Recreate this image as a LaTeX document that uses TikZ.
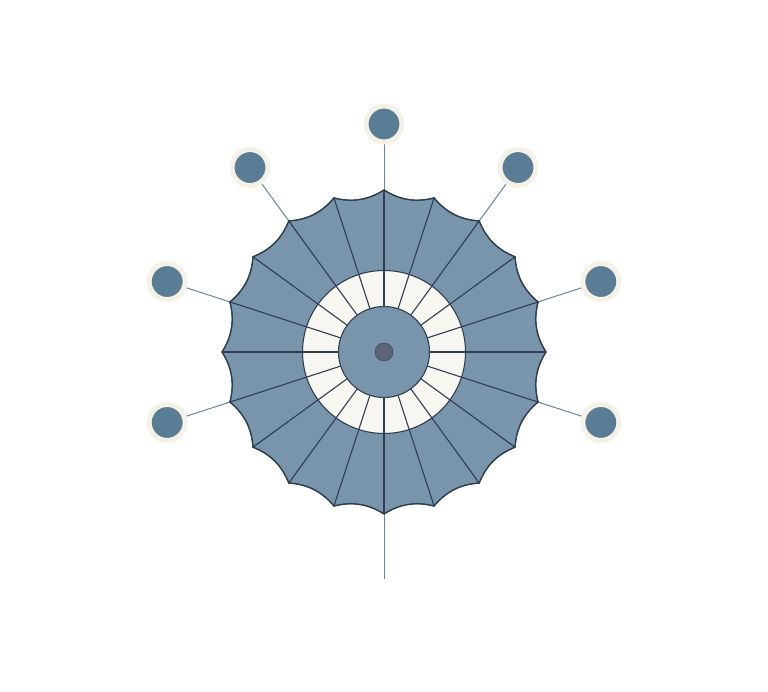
\documentclass[tikz,border=0pt]{standalone}
\usetikzlibrary{calc}
\definecolor{bodyblue}{HTML}{7895AB}
\definecolor{handleblue}{HTML}{5A7D96}
\definecolor{linkblue}{HTML}{6585A0}
\definecolor{strokedark}{HTML}{2F3E52}
\definecolor{creamfill}{HTML}{F8F6F0}
\definecolor{halofill}{HTML}{F6F1E7}
\definecolor{hubgrey}{HTML}{5B6476}
\tikzset{
  canopy/.style={fill=bodyblue,draw=strokedark,line width=1.2pt,line join=miter},
  ring/.style={circle,fill=creamfill,draw=strokedark,line width=1.1pt,minimum size=163pt,inner sep=0pt},
  hubdisc/.style={circle,fill=bodyblue,draw=strokedark,line width=1.1pt,minimum size=91pt,inner sep=0pt},
  hubdot/.style={circle,fill=hubgrey,draw=strokedark,line width=0.4pt,minimum size=18pt,inner sep=0pt},
  rib/.style={draw=strokedark,line width=1.1pt},
  knob/.style={circle,fill=handleblue,draw=halofill,line width=5pt,minimum size=36pt,inner sep=0pt},
  shaft/.style={draw=linkblue,line width=1pt}
}
\begin{document}
\begin{tikzpicture}[x=1pt,y=1pt]
\useasboundingbox (0,0) rectangle (768,692);
\coordinate (c) at (384,340);
\foreach \i in {0,...,19}{
  \coordinate (v\i) at ($(c)+(\i*18:162)$);
}
\coordinate (v20) at (v0);
\foreach \i [count=\j] in {0,...,19}{
  \coordinate (pa\i) at ($(v\i)!0.3333!(v\j)$);
  \coordinate (pb\i) at ($(v\i)!0.6667!(v\j)$);
  \coordinate (qa\i) at ($(pa\i)!7.5pt!(c)$);
  \coordinate (qb\i) at ($(pb\i)!7.5pt!(c)$);
}
% shafts to knobs
\foreach \i/\a in {1/18,3/54,5/90,7/126,9/162,11/198,19/342}{
  \coordinate (k\i) at ($(c)+(\a:228)$);
}
\coordinate (tail) at ($(c)+(270:227)$);
\foreach \i in {1,3,5,7,9,11,19}{ \draw[shaft] (v\i) -- (k\i); }
\draw[shaft] (v15) -- (tail);
\foreach \i in {1,3,5,7,9,11,19}{ \node[knob] (knob\i) at (k\i) {}; }
% canopy
\path[canopy] (v0) \foreach \i [count=\j] in {0,...,18}{ .. controls (qa\i) and (qb\i) .. (v\j) } .. controls (qa19) and (qb19) .. cycle;
\node[ring] (ringnode) at (c) {};
\foreach \i in {0,...,19}{ \draw[rib] (c) -- (v\i); }
\draw[canopy,fill=none] (v0) \foreach \i [count=\j] in {0,...,18}{ .. controls (qa\i) and (qb\i) .. (v\j) } .. controls (qa19) and (qb19) .. cycle;
\node[hubdisc] (hub) at (c) {};
\node[hubdot] (center) at (c) {};
\end{tikzpicture}
\end{document}
